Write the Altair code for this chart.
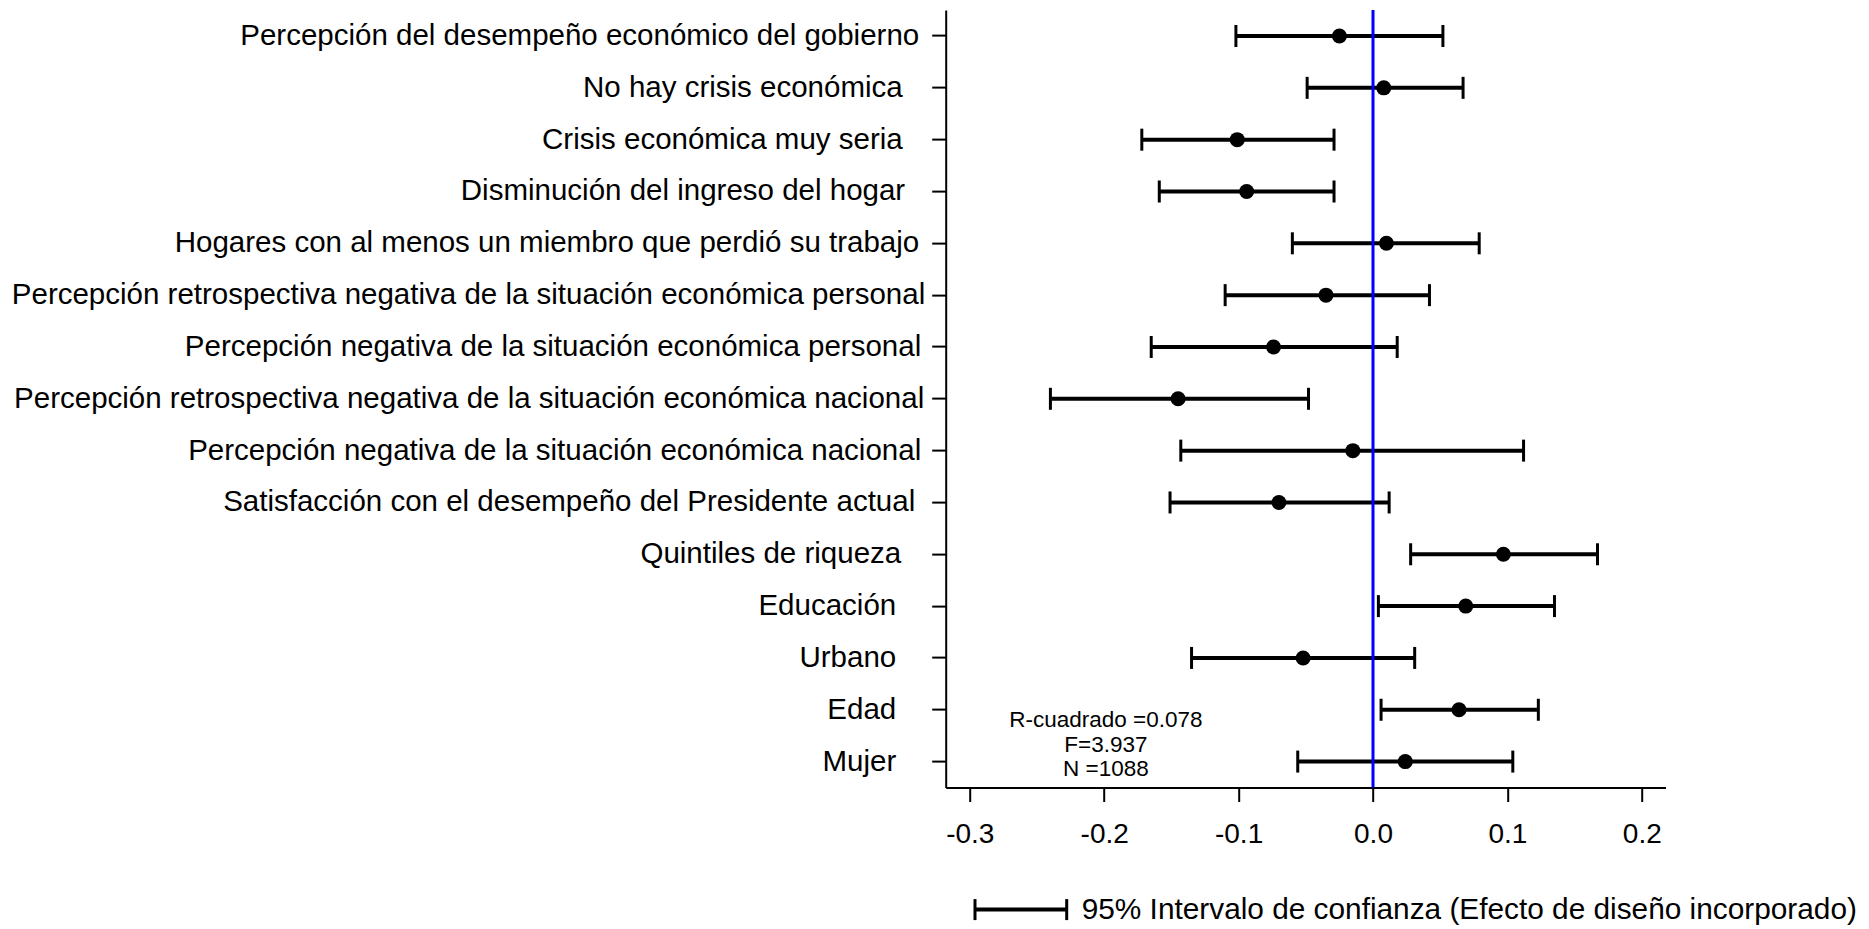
import json
import altair as alt
import pandas as pd

labels = [
    "Percepción del desempeño económico del gobierno",
    "No hay crisis económica",
    "Crisis económica muy seria",
    "Disminución del ingreso del hogar",
    "Hogares con al menos un miembro que perdió su trabajo",
    "Percepción retrospectiva negativa de la situación económica personal",
    "Percepción negativa de la situación económica personal",
    "Percepción retrospectiva negativa de la situación económica nacional",
    "Percepción negativa de la situación económica nacional",
    "Satisfacción con el desempeño del Presidente actual",
    "Quintiles de riqueza",
    "Educación",
    "Urbano",
    "Edad",
    "Mujer",
]
coef = [-0.025, 0.008, -0.101, -0.094, 0.010, -0.035, -0.074, -0.145, -0.015, -0.070,
        0.097, 0.069, -0.052, 0.064, 0.024]
lo = [-0.102, -0.049, -0.172, -0.159, -0.060, -0.110, -0.165, -0.240, -0.143, -0.151,
      0.028, 0.004, -0.135, 0.006, -0.056]
hi = [0.052, 0.067, -0.029, -0.029, 0.079, 0.042, 0.018, -0.048, 0.112, 0.012,
      0.167, 0.135, 0.031, 0.123, 0.104]

x_ticks = [-0.3, -0.2, -0.1, 0.0, 0.1, 0.2]
stats_text = "R-cuadrado =0.078\nF=3.937\nN =1088"
stats_x = -0.1987
legend_text = "95% Intervalo de confianza (Efecto de diseño incorporado)"
zero_line = [0.0]

df = pd.DataFrame({"var": labels, "coef": coef, "lo": lo, "hi": hi})
ann = pd.DataFrame({"var": [labels[-1]], "x": [stats_x], "t": [stats_text]})
zdf = pd.DataFrame({"z": zero_line})
ldf = pd.DataFrame({"t": [legend_text]})

FONT = "Liberation Sans, Arial, Helvetica, sans-serif"

# style: per-label gap between text and tick (the original labels carry trailing blanks)
label_gap = [13, 29.5, 29.5, 27, 13, 7, 11, 8, 11, 17, 31, 36, 36, 36, 36]
pad_expr = "[" + ",".join(str(p) for p in label_gap) + "][indexof(" + \
    json.dumps(labels, ensure_ascii=False) + ", datum.value)]"

xscale = alt.Scale(domain=[-0.3179, 0.2176], nice=False, zero=False)
xaxis = alt.Axis(values=x_ticks, title=None, grid=False, tickSize=14,
                 labelPadding=19, labelFontSize=28,
                 labelExpr="replace(format(datum.value, '.1f'), '\u2212', '-')")
yscale = alt.Scale(type="band", domain=labels, paddingInner=0, paddingOuter=0)
yaxis = alt.Axis(title=None, grid=False, tickSize=14, labelLimit=3000,
                 labelFontSize=29.5,
                 labelPadding={"condition": {"test": "false", "value": 3}, "expr": pad_expr})


def X(field):
    return alt.X(field, type="quantitative", scale=xscale, axis=xaxis)


def Y(field="var"):
    return alt.Y(field, type="nominal", scale=yscale, axis=yaxis, sort=labels)


bars = alt.Chart(df).mark_rule(color="black", strokeWidth=4).encode(
    x=X("lo"), x2="hi", y=Y())
cap_lo = alt.Chart(df).mark_tick(color="black", thickness=3, size=22, opacity=1).encode(
    x=X("lo"), y=Y())
cap_hi = alt.Chart(df).mark_tick(color="black", thickness=3, size=22, opacity=1).encode(
    x=X("hi"), y=Y())
zero = alt.Chart(zdf).mark_rule(color="#0000ff", strokeWidth=3).encode(x=X("z"))
pts = alt.Chart(df).mark_circle(color="black", size=225, opacity=1).encode(
    x=X("coef"), y=Y())
stats = alt.Chart(ann).mark_text(align="center", baseline="middle", lineBreak="\n",
                                 fontSize=22.5, lineHeight=24.5, dy=-41.5, font=FONT,
                                 color="black").encode(
    x=X("x"), y=Y(), text="t:N")

leg_line = alt.Chart(ldf).mark_rule(color="black", strokeWidth=4).encode(
    x=alt.value(29.3), x2=alt.value(121), y=alt.value(899.5))
leg_cap1 = alt.Chart(ldf).mark_rule(color="black", strokeWidth=3).encode(
    x=alt.value(29.3), y=alt.value(889), y2=alt.value(910))
leg_cap2 = alt.Chart(ldf).mark_rule(color="black", strokeWidth=3).encode(
    x=alt.value(121), y=alt.value(889), y2=alt.value(910))
leg_text = alt.Chart(ldf).mark_text(align="left", baseline="middle", fontSize=29.8,
                                    font=FONT, color="black").encode(
    x=alt.value(136), y=alt.value(899.5), text="t:N")

chart = alt.layer(bars, cap_lo, cap_hi, zero, pts, stats,
                  leg_line, leg_cap1, leg_cap2, leg_text).properties(
    width=719.8, height=777.4,
    autosize=alt.AutoSizeParams(type="none"),
    padding={"left": 937.7, "top": 2.1, "right": 195, "bottom": 139.5},
    background="white",
).configure_view(stroke=None).configure_axis(
    domainColor="black", domainWidth=2, tickColor="black", tickWidth=2,
    labelColor="black", labelFont=FONT,
)

chart.save("out.html", embed_options={"renderer": "svg", "actions": False})
